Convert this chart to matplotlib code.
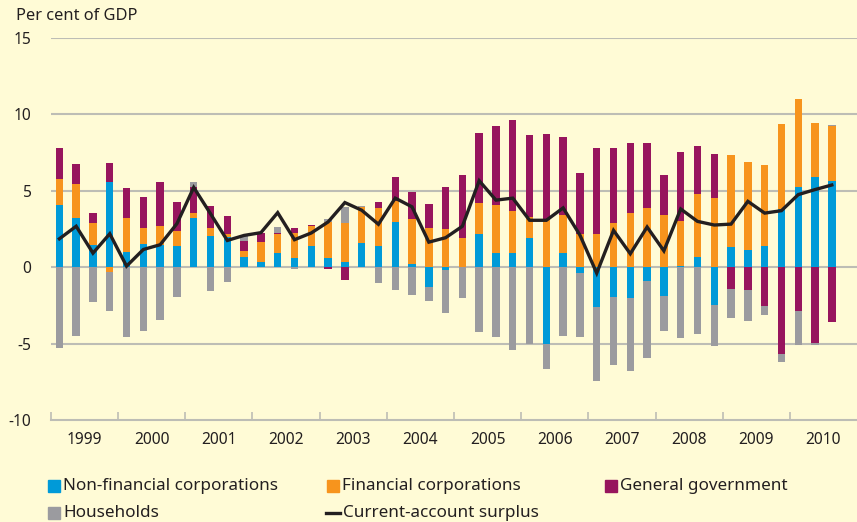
import matplotlib.pyplot as plt
import numpy as np
from matplotlib.patches import Rectangle
from matplotlib.lines import Line2D

# quarterly data, 1999 Q1 - 2010 Q3, per cent of GDP
years = ['1999', '2000', '2001', '2002', '2003', '2004', '2005', '2006',
         '2007', '2008', '2009', '2010']

non_financial = [4.06, 3.22, 1.43, 5.59, 0.99, 1.51, 1.43, 1.38, 3.22, 2.02,
                 1.97, 0.70, 0.31, 0.90, 0.57, 1.38, 0.57, 0.37, 1.56, 1.38,
                 2.96, 0.18, -1.32, -0.20, 0.0, 2.17, 0.96, 0.90, 1.91, -5.0,
                 0.90, -0.35, -2.58, -1.95, -2.01, -0.90, -1.88, 0.05, 0.68, -2.47,
                 1.29, 1.14, 1.40, 3.83, 5.23, 5.93, 5.67]
financial = [1.71, 2.22, 1.44, -0.33, 2.24, 1.05, 1.25, 0.97, 0.31, 0.52,
             0.18, 0.33, 1.31, 1.25, 1.64, 1.30, 2.39, 2.50, 2.37, 2.48,
             1.36, 2.96, 2.54, 2.48, 1.91, 2.02, 3.10, 2.76, 1.36, 3.07,
             2.50, 2.17, 2.19, 2.91, 3.57, 3.90, 3.44, 3.00, 4.13, 4.55,
             6.08, 5.77, 5.32, 5.51, 5.75, 3.50, 3.54]
government = [2.04, 1.31, 0.66, 1.23, 1.95, 2.02, 2.89, 1.90, 1.69, 1.45,
              1.18, 0.66, 0.62, 0.07, 0.33, 0.07, -0.09, -0.81, 0.0, 0.39,
              1.58, 1.77, 1.58, 2.76, 4.12, 4.60, 5.19, 5.99, 5.39, 5.66,
              5.13, 4.00, 5.58, 4.86, 4.55, 4.22, 2.62, 4.47, 3.09, 2.89,
              -1.42, -1.49, -2.54, -5.69, -2.84, -4.95, -3.59]
households = [-5.26, -4.50, -2.26, -2.52, -4.56, -4.17, -3.44, -1.97, 0.35, -1.54,
              -0.94, 0.39, 0.0, 0.40, -0.15, 0.0, 0.22, 1.08, 0.06, -1.05,
              -1.47, -1.84, -0.88, -2.83, -2.04, -4.21, -4.54, -5.39, -5.0, -1.64,
              -4.47, -4.20, -4.88, -4.46, -4.80, -5.03, -2.30, -4.62, -4.38, -2.69,
              -1.91, -2.03, -0.59, -0.52, -2.26, -0.15, 0.09]
current_account = [1.86, 2.68, 0.92, 2.19, 0.07, 1.16, 1.47, 2.85, 5.22, 3.50,
                   1.75, 2.08, 2.26, 3.57, 1.80, 2.24, 2.96, 4.23, 3.73, 2.81,
                   4.52, 3.95, 1.64, 1.93, 2.68, 5.66, 4.39, 4.52, 3.07, 3.07,
                   3.88, 2.10, -0.39, 2.41, 0.88, 2.63, 1.07, 3.81, 3.00, 2.76,
                   2.82, 4.31, 3.54, 3.70, 4.75, 5.08, 5.38]

bg = '#FFFBD6'
c_nfc = '#009AD8'
c_fc = '#F7941D'
c_gg = '#97155D'
c_hh = '#9B9B9F'
c_grid = '#BDBDB5'
c_text = '#231F20'

plt.rcParams['font.family'] = ['Noto Sans', 'DejaVu Sans']

fig = plt.figure(figsize=(8.57, 5.22), dpi=100, facecolor=bg)
ax = fig.add_axes([51 / 857, 1 - 420 / 522, 806 / 857, 382 / 522])
ax.set_facecolor(bg)

x = np.arange(len(non_financial))
pos_bottom = np.zeros(len(x))
neg_bottom = np.zeros(len(x))
for vals, col in [(non_financial, c_nfc), (financial, c_fc),
                  (government, c_gg), (households, c_hh)]:
    v = np.array(vals)
    bottom = np.where(v >= 0, pos_bottom, neg_bottom)
    ax.bar(x, v, bottom=bottom, width=0.44, color=col, zorder=2)
    pos_bottom += np.clip(v, 0, None)
    neg_bottom += np.clip(v, None, 0)

ax.plot(x, current_account, color=c_text, lw=2.4, zorder=3,
        solid_joinstyle='miter')

ax.set_xlim(-0.5, 47.5)
ax.set_ylim(-10, 15)

# horizontal grid lines
for yv in [15, 10, 5, 0, -5]:
    ax.axhline(yv, color=c_grid, lw=1.5, zorder=1)

ax.set_yticks([15, 10, 5, 0, -5, -10])
ax.set_yticklabels(['15', '10', '5', '0', '-5', '-10'])
ax.tick_params(axis='y', length=0, pad=14, labelsize=11.2, labelcolor=c_text)

# year boundaries as ticks, year names centred in between
ax.set_xticks(np.arange(-0.5, 44, 4))
ax.set_xticklabels([])
ax.set_xticks(np.arange(1.5, 48, 4), minor=True)
ax.set_xticklabels(years, minor=True)
ax.tick_params(axis='x', which='major', direction='in', length=6,
               color=c_grid, width=1.2)
ax.tick_params(axis='x', which='minor', length=0, pad=9, labelsize=11.2,
               labelcolor=c_text)

for s in ['top', 'right', 'left']:
    ax.spines[s].set_visible(False)
ax.spines['bottom'].set_color(c_grid)
ax.spines['bottom'].set_linewidth(1.5)

fig.text(16 / 857, 1 - 16 / 522, 'Per cent of GDP', fontsize=11.8,
         color=c_text, va='center', ha='left')

# legend, drawn by hand
def legend_box(px, py, col, label):
    fig.patches.append(Rectangle((px / 857, 1 - (py + 6) / 522), 12 / 857, 12 / 522,
                                 transform=fig.transFigure, color=col))
    fig.text((px + 15) / 857, 1 - py / 522, label, fontsize=12.3,
             color=c_text, va='center', ha='left')

legend_box(48, 486, c_nfc, 'Non-financial corporations')
legend_box(327, 486, c_fc, 'Financial corporations')
legend_box(605, 486, c_gg, 'General government')
legend_box(48, 513, c_hh, 'Households')
fig.lines.append(Line2D([326 / 857, 340 / 857], [1 - 513 / 522, 1 - 513 / 522],
                        transform=fig.transFigure, color=c_text, lw=2.4))
fig.text(343 / 857, 1 - 513 / 522, 'Current-account surplus', fontsize=12.3,
         color=c_text, va='center', ha='left')

fig.savefig('out.png', dpi=100, facecolor=bg)
